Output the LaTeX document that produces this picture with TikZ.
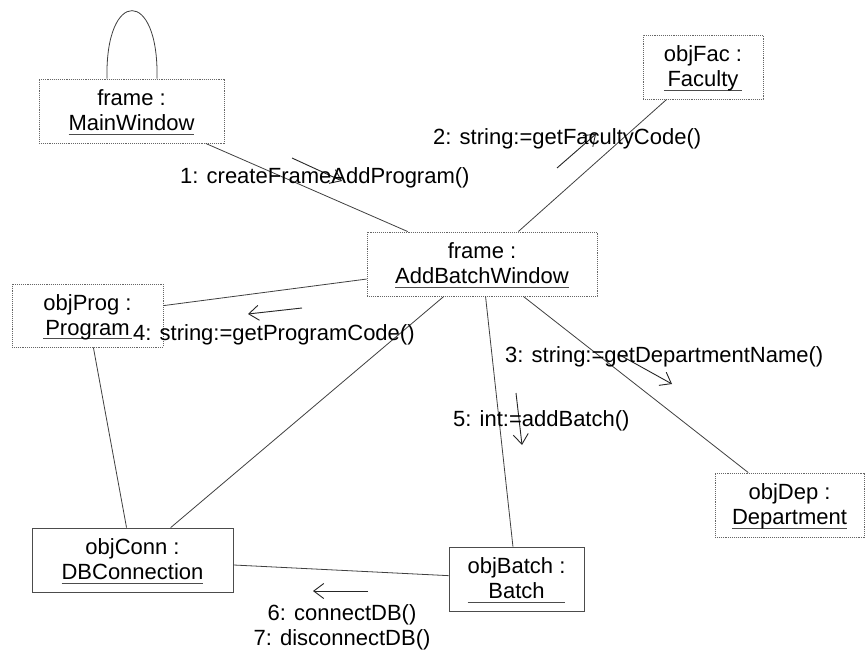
\documentclass[tikz,border=0pt]{standalone}
\usepackage{fontspec}
\setmainfont{Liberation Sans}
\usetikzlibrary{arrows.meta}

% object label: "name :" over the underlined class name
\newlength\ulw
\newcommand\objtext[2]{%
  \sbox0{#1}\sbox2{#2}%
  \ifdim\wd0>\wd2 \setlength\ulw{\wd0}\else\setlength\ulw{\wd2}\fi
  \raisebox{-2pt}[\height][\depth]{\begin{tabular}{@{}c@{}}#1\\%
    \rlap{\textcolor{black!70}{\rule[-4pt]{\ulw}{0.9pt}}}\makebox[\ulw]{#2}\end{tabular}}}

\begin{document}
\begin{tikzpicture}[x=1pt,y=-1pt,
  font=\fontsize{22}{25}\selectfont,
  obj/.style={draw=black!60, line width=0.9pt, densely dotted, inner sep=0pt, minimum height=64pt},
  objsolid/.style={obj, solid, draw=black!70},
  link/.style={draw=black!75, line width=0.8pt},
  msg/.style={draw=black!85, line width=0.9pt, -{Straight Barb[length=10pt,width=15pt]}},
  lbl/.style={inner sep=0pt, anchor=base west}]
\useasboundingbox (0,0) rectangle (865,650);
\fill[white] (0,0) rectangle (865,650);

% objects
\node[obj, minimum width=185pt] (mw) at (131.5,111) {\objtext{frame :}{MainWindow}};
\node[obj, minimum width=230pt] (abw) at (482,264) {\objtext{frame :}{AddBatchWindow}};
\node[obj, minimum width=120pt] (fac) at (703,67) {\objtext{objFac :}{Faculty}};
\node[obj, minimum width=151pt, minimum height=63pt] (prog) at (87.5,315.5) {\objtext{objProg :}{Program}};
\node[objsolid, minimum width=201pt] (conn) at (132.5,560) {\objtext{objConn :}{DBConnection}};
\node[objsolid, minimum width=135pt] (batch) at (516.5,579) {\objtext{objBatch :}{Batch}};
\node[obj, minimum width=149pt] (dep) at (789.5,505) {\objtext{objDep :}{Department}};

% links
\draw[link] (mw) -- (abw);
\draw[link] (fac) -- (abw);
\draw[link] (prog) -- (abw);
\draw[link] (abw) -- (conn);
\draw[link] (abw) -- (batch);
\draw[link] (abw) -- (dep);
\draw[link] (prog) -- (conn);
\draw[link] (conn) -- (batch);
\draw[link] ([xshift=-24.5pt]mw.north) .. controls (105,-12) and (159,-12) .. ([xshift=25.5pt]mw.north);

% message arrows
\coordinate (m1s) at (292,158); \coordinate (m1e) at (342,181);
\coordinate (m2s) at (557,168); \coordinate (m2e) at (596,134);
\coordinate (m3s) at (618,354); \coordinate (m3e) at (672,384);
\coordinate (m4s) at (302,308); \coordinate (m4e) at (248,314);
\coordinate (m5s) at (516,393); \coordinate (m5e) at (522,445);
\coordinate (m6s) at (368,591); \coordinate (m6e) at (313,591);
\draw[msg] (m1s) -- (m1e);
\draw[msg] (m2s) -- (m2e);
\draw[msg] (m3s) -- (m3e);
\draw[msg] (m4s) -- (m4e);
\draw[msg] (m5s) -- (m5e);
\draw[msg] (m6s) -- (m6e);

% message labels
\node[lbl] (l1) at (180,183) {1: createFrameAddProgram()};
\node[lbl] (l2) at (433,145) {2: string:=getFacultyCode()};
\node[lbl] (l3) at (505,362) {3: string:=getDepartmentName()};
\node[lbl] (l4) at (133,340) {4: string:=getProgramCode()};
\node[lbl] (l5) at (453,426) {5: int:=addBatch()};
\node[inner sep=0pt, anchor=base] (l6) at (342,620)
  {\begin{tabular}[t]{@{}c@{}}6: connectDB()\\7: disconnectDB()\end{tabular}};
\end{tikzpicture}
\end{document}
